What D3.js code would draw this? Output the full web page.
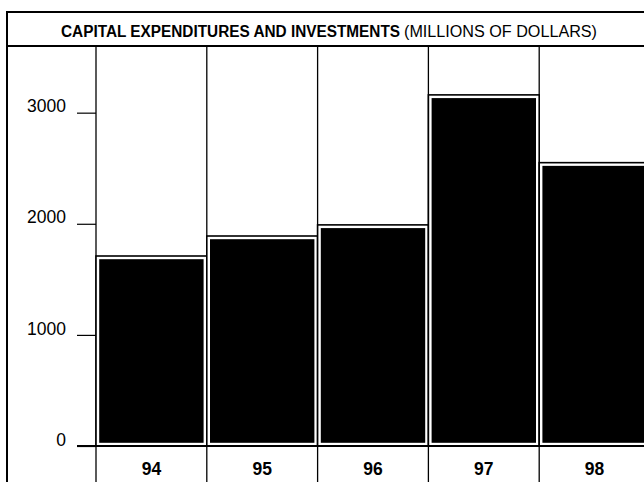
<!DOCTYPE html>
<html>
<head>
<meta charset="utf-8">
<script src="https://cdn.jsdelivr.net/npm/d3@7"></script>
<style>
  html, body { margin: 0; padding: 0; background: #fff; }
  svg { display: block; }
  text { font-family: "Liberation Sans Narrow", "Arial Narrow", "Liberation Sans", sans-serif; fill: #000; }
</style>
</head>
<body>
<svg id="chart" width="644" height="482"></svg>
<script>
// Capital expenditures and investments, millions of dollars
const years = ["94", "95", "96", "97", "98"];
const spending = [1710, 1890, 1990, 3160, 2550];
const yTicks = [0, 1000, 2000, 3000];
const titleBold = "CAPITAL EXPENDITURES AND INVESTMENTS";
const titleUnits = "(MILLIONS OF DOLLARS)";

const W = 644, H = 482;
const frameLeft = 7, frameTop = 12, bandBottom = 46;
const svg = d3.select("#chart");

const x = d3.scaleBand().domain(years).range([96, 650]).padding(0);
const y = d3.scaleLinear().domain([0, 3600]).range([446, 46]);

// Outer frame: left edge, top edge, title band rule
svg.append("line").attr("x1", frameLeft).attr("x2", frameLeft)
  .attr("y1", frameTop - 1).attr("y2", H).attr("stroke", "#000").attr("stroke-width", 2);
svg.append("line").attr("x1", frameLeft).attr("x2", W)
  .attr("y1", frameTop).attr("y2", frameTop).attr("stroke", "#000").attr("stroke-width", 2);
svg.append("line").attr("x1", frameLeft).attr("x2", W)
  .attr("y1", bandBottom).attr("y2", bandBottom).attr("stroke", "#000").attr("stroke-width", 1.8);

// Title
svg.append("text").attr("x", 61).attr("y", 37)
  .attr("font-size", 16).attr("font-weight", "bold")
  .attr("textLength", 339).attr("lengthAdjust", "spacingAndGlyphs")
  .text(titleBold);
svg.append("text").attr("x", 404).attr("y", 37)
  .attr("font-size", 16)
  .attr("textLength", 193).attr("lengthAdjust", "spacingAndGlyphs")
  .text(titleUnits);

// Column dividers
const edges = years.map(d => x(d));
svg.append("g").selectAll("line").data(edges).join("line")
  .attr("x1", d => d).attr("x2", d => d)
  .attr("y1", bandBottom).attr("y2", H)
  .attr("stroke", "#000").attr("stroke-width", 1.3);

// Bars: outlined column with inset black fill
const inset = 3.2;
const bars = svg.append("g").selectAll("g").data(years.map((d, i) => ({ year: d, v: spending[i] }))).join("g");
bars.append("rect")
  .attr("x", d => x(d.year))
  .attr("y", d => y(d.v))
  .attr("width", x.bandwidth())
  .attr("height", d => y(0) - y(d.v))
  .attr("fill", "#fff").attr("stroke", "#000").attr("stroke-width", 1.6);
bars.append("rect")
  .attr("x", d => x(d.year) + inset)
  .attr("y", d => y(d.v) + inset)
  .attr("width", x.bandwidth() - 2 * inset)
  .attr("height", d => y(0) - y(d.v) - 2 * inset)
  .attr("fill", "#000");

// Value axis: short ticks left of the first divider
const yAxis = d3.axisLeft(y).tickValues(yTicks).tickSize(19).tickPadding(11).tickFormat(d3.format("d"));
const ga = svg.append("g").attr("transform", "translate(96,0)").call(yAxis);
ga.select(".domain").remove();
ga.selectAll(".tick line").attr("stroke", "#000").attr("stroke-width", 1.2);
ga.selectAll(".tick text").attr("font-size", 17.5).attr("font-family", null)
  .attr("dy", "-0.05em");

// Zero baseline
svg.append("line").attr("x1", 77).attr("x2", W)
  .attr("y1", y(0)).attr("y2", y(0)).attr("stroke", "#000").attr("stroke-width", 1.8);

// Year labels
svg.append("g").selectAll("text").data(years).join("text")
  .attr("x", d => x(d) + x.bandwidth() / 2)
  .attr("y", 475)
  .attr("text-anchor", "middle")
  .attr("font-size", 17.5).attr("font-weight", "bold")
  .text(d => d);
</script>
</body>
</html>
